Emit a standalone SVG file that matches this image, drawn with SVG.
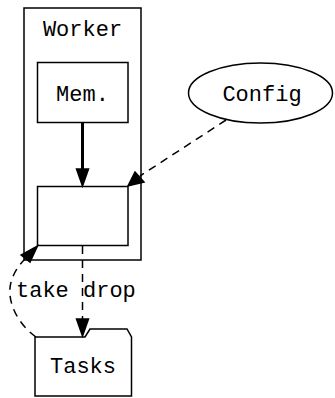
<svg xmlns="http://www.w3.org/2000/svg" width="335" height="398" viewBox="0 0 335 398">
  <defs>
    <style>
      .shape { fill: #ffffff; stroke: #000000; stroke-width: 1.5; }
      .label { font-family: "Liberation Mono", "Courier New", monospace; font-size: 22px; fill: #000000; }
      .mid { text-anchor: middle; }
      .edge { fill: none; stroke: #000000; stroke-width: 1.5; }
      .dashed { stroke-dasharray: 8,6; }
      .bold { stroke-width: 3; }
      .head { fill: #000000; stroke: #000000; stroke-width: 1.5; }
    </style>
  </defs>
  <rect width="335" height="398" fill="#ffffff"/>

  <!-- Worker cluster -->
  <g id="cluster-worker">
    <rect class="shape" x="24" y="8" width="117" height="252"/>
    <text class="label mid" x="82.5" y="36">Worker</text>
  </g>

  <g id="mem">
    <rect class="shape" x="37.5" y="62.5" width="90.5" height="60"/>
    <text class="label mid" x="82.5" y="101">Mem.</text>
  </g>

  <g id="core">
    <rect class="shape" x="37.5" y="186.5" width="90.5" height="59"/>
  </g>

  <g id="config">
    <ellipse class="shape" cx="260.5" cy="93" rx="72" ry="30"/>
    <text class="label mid" x="262" y="101">Config</text>
  </g>

  <g id="tasks">
    <path class="shape" d="M35,337 L85,337 L90,329 L127,329 L131.5,337 L131.5,396 L35,396 Z"/>
    <text class="label mid" x="83" y="373">Tasks</text>
  </g>

  <!-- connectors -->
  <g id="edges">
    <!-- Mem. -> core -->
    <line class="edge bold" x1="82.5" y1="122.5" x2="82.5" y2="170"/>
    <polygon class="head" points="76.5,169 88.5,169 82.5,186"/>

    <!-- Config -> core -->
    <line class="edge dashed" x1="226" y1="120" x2="140" y2="176"/>
    <polygon class="head" points="135,172 144,182 128,186"/>

    <!-- core -> Tasks (drop) -->
    <line class="edge dashed" x1="82.5" y1="246" x2="82.5" y2="320"/>
    <polygon class="head" points="76.5,319 88.5,319 82.5,336"/>
    <text class="label" x="83" y="297">drop</text>

    <!-- Tasks -> core (take) -->
    <path class="edge dashed" d="M36,337 C18,324 6,302 11,282 C14,272 19,265 25,259"/>
    <polygon class="head" points="21,255 30,262 37.5,246"/>
    <text class="label" x="16" y="297">take</text>
  </g>
</svg>
